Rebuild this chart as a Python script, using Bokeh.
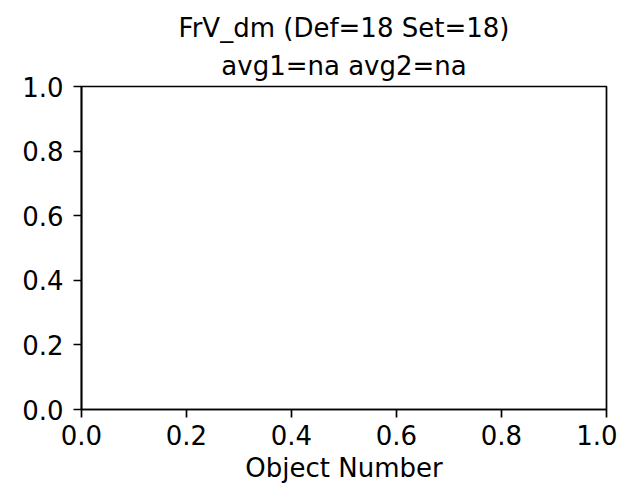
from bokeh.plotting import figure
from bokeh.models import Range1d, FixedTicker, PrintfTickFormatter, Title
from bokeh.embed import file_html
from bokeh.resources import INLINE

title_line1 = "FrV_dm (Def=18 Set=18)"
title_line2 = "avg1=na avg2=na"
x_label = "Object Number"
x_ticks = [0.0, 0.2, 0.4, 0.6, 0.8, 1.0]
y_ticks = [0.0, 0.2, 0.4, 0.6, 0.8, 1.0]
x_limits = [0.0, 1.0]
y_limits = [0.0, 1.0]

FONT = "DejaVu Sans"
TICK_SIZE = "26px"
TITLE_SIZE = "26px"

p = figure(width=617, height=485, output_backend="svg", toolbar_location=None,
           x_range=Range1d(*x_limits), y_range=Range1d(*y_limits),
           min_border_left=81, min_border_right=11, min_border_top=86, min_border_bottom=75)

p.title.text = title_line1
p.title.align = "center"
p.title.text_font = FONT
p.title.text_font_size = TITLE_SIZE
p.title.text_font_style = "normal"
p.title.text_color = "black"
p.title.text_line_height = 0.85
p.title.standoff = 0
p.add_layout(Title(text=title_line2, align="center", text_font=FONT,
                   text_font_size=TITLE_SIZE, text_font_style="normal",
                   text_color="black", text_line_height=0.85, standoff=12), "above")

p.grid.visible = False
p.outline_line_color = "black"
p.outline_line_width = 1.7
p.background_fill_color = "white"
p.border_fill_color = "white"

for ax, ticks in ((p.xaxis[0], x_ticks), (p.yaxis[0], y_ticks)):
    ax.ticker = FixedTicker(ticks=ticks)
    ax.formatter = PrintfTickFormatter(format="%.1f")
    ax.axis_line_color = "black"
    ax.axis_line_width = 1.7
    ax.major_tick_line_color = "black"
    ax.major_tick_line_width = 1.7
    ax.major_tick_out = 8
    ax.major_tick_in = 0
    ax.minor_tick_line_color = None
    ax.major_label_text_font = FONT
    ax.major_label_text_font_size = TICK_SIZE
    ax.major_label_text_color = "black"

p.xaxis.major_label_standoff = 7
p.yaxis.major_label_standoff = 10
p.xaxis.axis_label = x_label
p.xaxis.axis_label_text_font = FONT
p.xaxis.axis_label_text_font_size = TICK_SIZE
p.xaxis.axis_label_text_font_style = "normal"
p.xaxis.axis_label_text_color = "black"
p.xaxis.axis_label_standoff = 5

open("out.html", "w").write(file_html(p, INLINE))
